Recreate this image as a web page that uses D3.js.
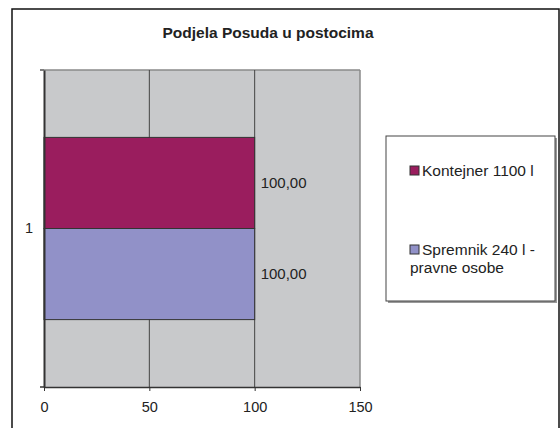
<!DOCTYPE html>
<html><head><meta charset="utf-8">
<script src="https://cdn.jsdelivr.net/npm/d3@7"></script>
<style>body{margin:0;background:#fff}svg{display:block}text{font-family:"Liberation Sans",Arial,sans-serif;fill:#222}</style>
</head><body><svg id="c" width="560" height="428"></svg>
<script>
const title = "Podjela Posuda u postocima";
const categories = ["1"];
const seriesNames = ["Kontejner 1100 l", "Spremnik 240 l - pravne osobe"];
const legendLines = [["Kontejner 1100 l"], ["Spremnik 240 l -", "pravne osobe"]];
const seriesValues = [[100], [100]];
const seriesColors = ["#9a1d5e", "#9191c8"];
const xTicks = [0, 50, 100, 150];
const valueLabel = v => v.toFixed(2).replace(".", ",");

const svg = d3.select("#c");
// outer frame
svg.append("rect").attr("x", 12).attr("y", 9).attr("width", 547).attr("height", 430)
  .attr("fill", "#fff").attr("stroke", "#111").attr("stroke-width", 1.5);

svg.append("text").attr("x", 268).attr("y", 38).attr("text-anchor", "middle")
  .style("font-size", "15.5px").style("font-weight", "bold").text(title);

const L = 44, R = 360, T = 70, B = 387;
const x = d3.scaleLinear().domain([0, 150]).range([L, R]);
const y = d3.scaleBand().domain(categories).range([T, B]).paddingInner(0.27).paddingOuter(0.27);
const yInner = d3.scaleBand().domain(seriesNames).range([0, y.bandwidth()]);

// plot background
svg.append("rect").attr("x", L).attr("y", T).attr("width", R - L).attr("height", B - T)
  .attr("fill", "#c8c9cb");
svg.append("line").attr("x1", L).attr("x2", R).attr("y1", T).attr("y2", T).attr("stroke", "#8a8a8a").attr("stroke-width", 1.5);
svg.append("line").attr("x1", R).attr("x2", R).attr("y1", T).attr("y2", B).attr("stroke", "#8a8a8a").attr("stroke-width", 1.5);

// gridlines
svg.append("g").selectAll("line").data(xTicks.filter(t => t > 0 && t < 150)).join("line")
  .attr("x1", d => x(d)).attr("x2", d => x(d)).attr("y1", T).attr("y2", B)
  .attr("stroke", "#444").attr("stroke-width", 1);

// bars
categories.forEach((c, ci) => {
  seriesNames.forEach((s, si) => {
    const v = seriesValues[si][ci];
    const by = y(c) + yInner(s);
    svg.append("rect").attr("x", x(0)).attr("y", by).attr("width", x(v) - x(0)).attr("height", yInner.bandwidth())
      .attr("fill", seriesColors[si]).attr("stroke", "#333").attr("stroke-width", 1);
    svg.append("text").attr("x", x(v) + 6).attr("y", by + yInner.bandwidth() / 2 + 5)
      .style("font-size", "15px").text(valueLabel(v));
  });
});

// x axis
const xAxis = d3.axisBottom(x).tickValues(xTicks).tickSize(4).tickPadding(11).tickSizeOuter(0);
const gx = svg.append("g").attr("transform", `translate(0,${B})`).call(xAxis);
gx.select(".domain").attr("stroke", "#333").attr("stroke-width", 1.5);
gx.selectAll(".tick line").attr("stroke", "#333");
gx.selectAll("text").style("font-size", "14.5px").attr("fill", "#222").style("font-family", '"Liberation Sans",Arial,sans-serif');
svg.append("line").attr("x1", L - 4).attr("x2", L).attr("y1", B).attr("y2", B).attr("stroke", "#333").attr("stroke-width", 1.5);

// y axis
const gy = svg.append("g").attr("transform", `translate(${L},0)`)
  .call(d3.axisLeft(y).tickSize(0).tickPadding(11));
gy.select(".domain").attr("stroke", "#333").attr("stroke-width", 2);
gy.selectAll("text").style("font-size", "14.5px").attr("fill", "#222").style("font-family", '"Liberation Sans",Arial,sans-serif');
svg.append("line").attr("x1", L - 4).attr("x2", L).attr("y1", T).attr("y2", T).attr("stroke", "#555").attr("stroke-width", 1.5);

// legend
const lg = svg.append("g");
lg.append("rect").attr("x", 388).attr("y", 138).attr("width", 169).attr("height", 165).attr("fill", "#999");
lg.append("rect").attr("x", 386).attr("y", 136).attr("width", 169).attr("height", 165)
  .attr("fill", "#fff").attr("stroke", "#444").attr("stroke-width", 1);
const entryY = [171, 250];
seriesNames.forEach((s, i) => {
  lg.append("rect").attr("x", 410).attr("y", entryY[i] - 5).attr("width", 9).attr("height", 9)
    .attr("fill", seriesColors[i]).attr("stroke", "#333").attr("stroke-width", 1);
  legendLines[i].forEach((line, j) => {
    lg.append("text").attr("x", j === 0 ? 422 : 410).attr("y", entryY[i] + 5 + j * 18)
      .style("font-size", "15.5px").text(line);
  });
});
</script></body></html>
